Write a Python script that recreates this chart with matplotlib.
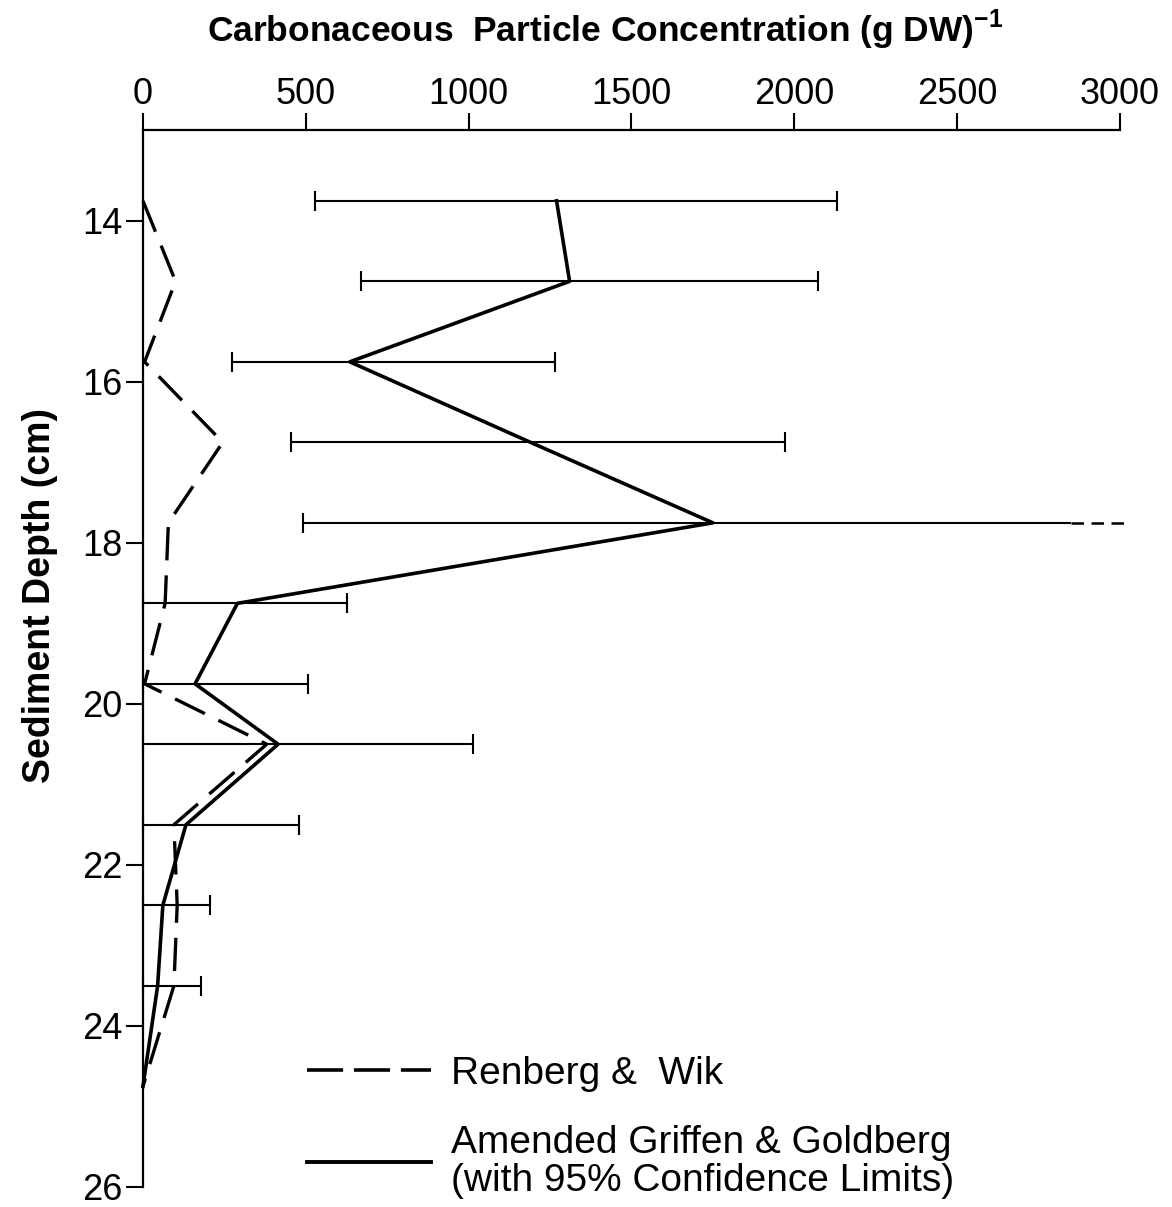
import matplotlib
matplotlib.use("Agg")
import matplotlib.pyplot as plt
from matplotlib.lines import Line2D

plt.rcParams['font.family'] = ['Liberation Sans', 'DejaVu Sans']

# sediment depth of each sample (cm)
depth = [13.75, 14.75, 15.75, 16.75, 17.75, 18.75, 19.75, 20.5, 21.5, 22.5, 23.5, 24.75]

# Renberg & Wik counts
renberg = [0, 100, 5, 245, 78, 68, 5, 380, 95, 105, 95, 0]

# Amended Griffen & Goldberg counts and 95% confidence limits
griffen = [1270, 1310, 635, 1190, 1750, 290, 160, 415, 132, 61, 45, 0]
ci_low = [528, 669, 273, 454, 491, 0, 0, 0, 0, 0, 0]
ci_high = [2132, 2072, 1265, 1972, 3020, 626, 507, 1013, 479, 206, 179]
off_scale = 4          # the 17.75 cm upper limit runs past the axis
off_scale_break = 2850  # where its bar turns dashed

fig = plt.figure(figsize=(11.72, 12.07), dpi=100)
ax = fig.add_axes([0.122, 0.0166, 0.8336, 0.8757])

# data lines
ax.plot(renberg, depth, color='black', lw=2.4, dashes=(10, 4.5), clip_on=False)
ax.plot(griffen, depth, color='black', lw=2.6, clip_on=False)

# confidence limits
for i in range(len(ci_low)):
    mean = griffen[i]
    if i == off_scale:
        ax.errorbar([mean], [depth[i]],
                    xerr=[[mean - ci_low[i]], [off_scale_break - mean]],
                    fmt='none', ecolor='black', elinewidth=1.5, capsize=0)
        ax.plot([ci_low[i]], [depth[i]], marker='|', ms=15, mew=1.5, color='black')
        ax.plot([off_scale_break, ci_high[i]], [depth[i], depth[i]], color='black',
                lw=1.8, dashes=(5, 3), clip_on=False)
    else:
        ax.errorbar([mean], [depth[i]],
                    xerr=[[mean - ci_low[i]], [ci_high[i] - mean]],
                    fmt='none', ecolor='black', elinewidth=1.5, capsize=7.5,
                    capthick=1.5, clip_on=False)

ax.set_xlim(0, 3000)
ax.set_ylim(26, 12.87)

ax.xaxis.tick_top()
ax.set_xticks(range(0, 3001, 500))
ax.set_yticks(range(14, 27, 2))
ax.tick_params(axis='x', direction='out', length=12, width=1.5, labelsize=26, pad=1)
ax.tick_params(axis='y', direction='out', length=12, width=1.5, labelsize=26, pad=3)

for side in ['right', 'bottom']:
    ax.spines[side].set_visible(False)
for side in ['top', 'left']:
    ax.spines[side].set_linewidth(1.6)

fig.text(0.516, 0.975, r'Carbonaceous  Particle Concentration (g DW)$^{\mathregular{-1}}$',
         ha='center', va='center', fontsize=25.5, fontweight='bold')
fig.text(0.034, 0.507, 'Sediment Depth (cm)', rotation=90, ha='center', va='center',
         fontsize=27, fontweight='bold')

handles = [Line2D([], [], color='black', lw=2.6, dashes=(10, 3)),
           Line2D([], [], color='black', lw=2.8)]
labels = ['Renberg &  Wik', 'Amended Griffen & Goldberg\n(with 95% Confidence Limits)']
leg = fig.legend(handles, labels, loc='upper left', bbox_to_anchor=(0.245, 0.1415),
                 frameon=False, fontsize=28, handlelength=3.2, handletextpad=0.52,
                 labelspacing=0.85, borderpad=0)
for t in leg.get_texts():
    t.set_linespacing(1.08)

fig.savefig('out.png', dpi=100)
